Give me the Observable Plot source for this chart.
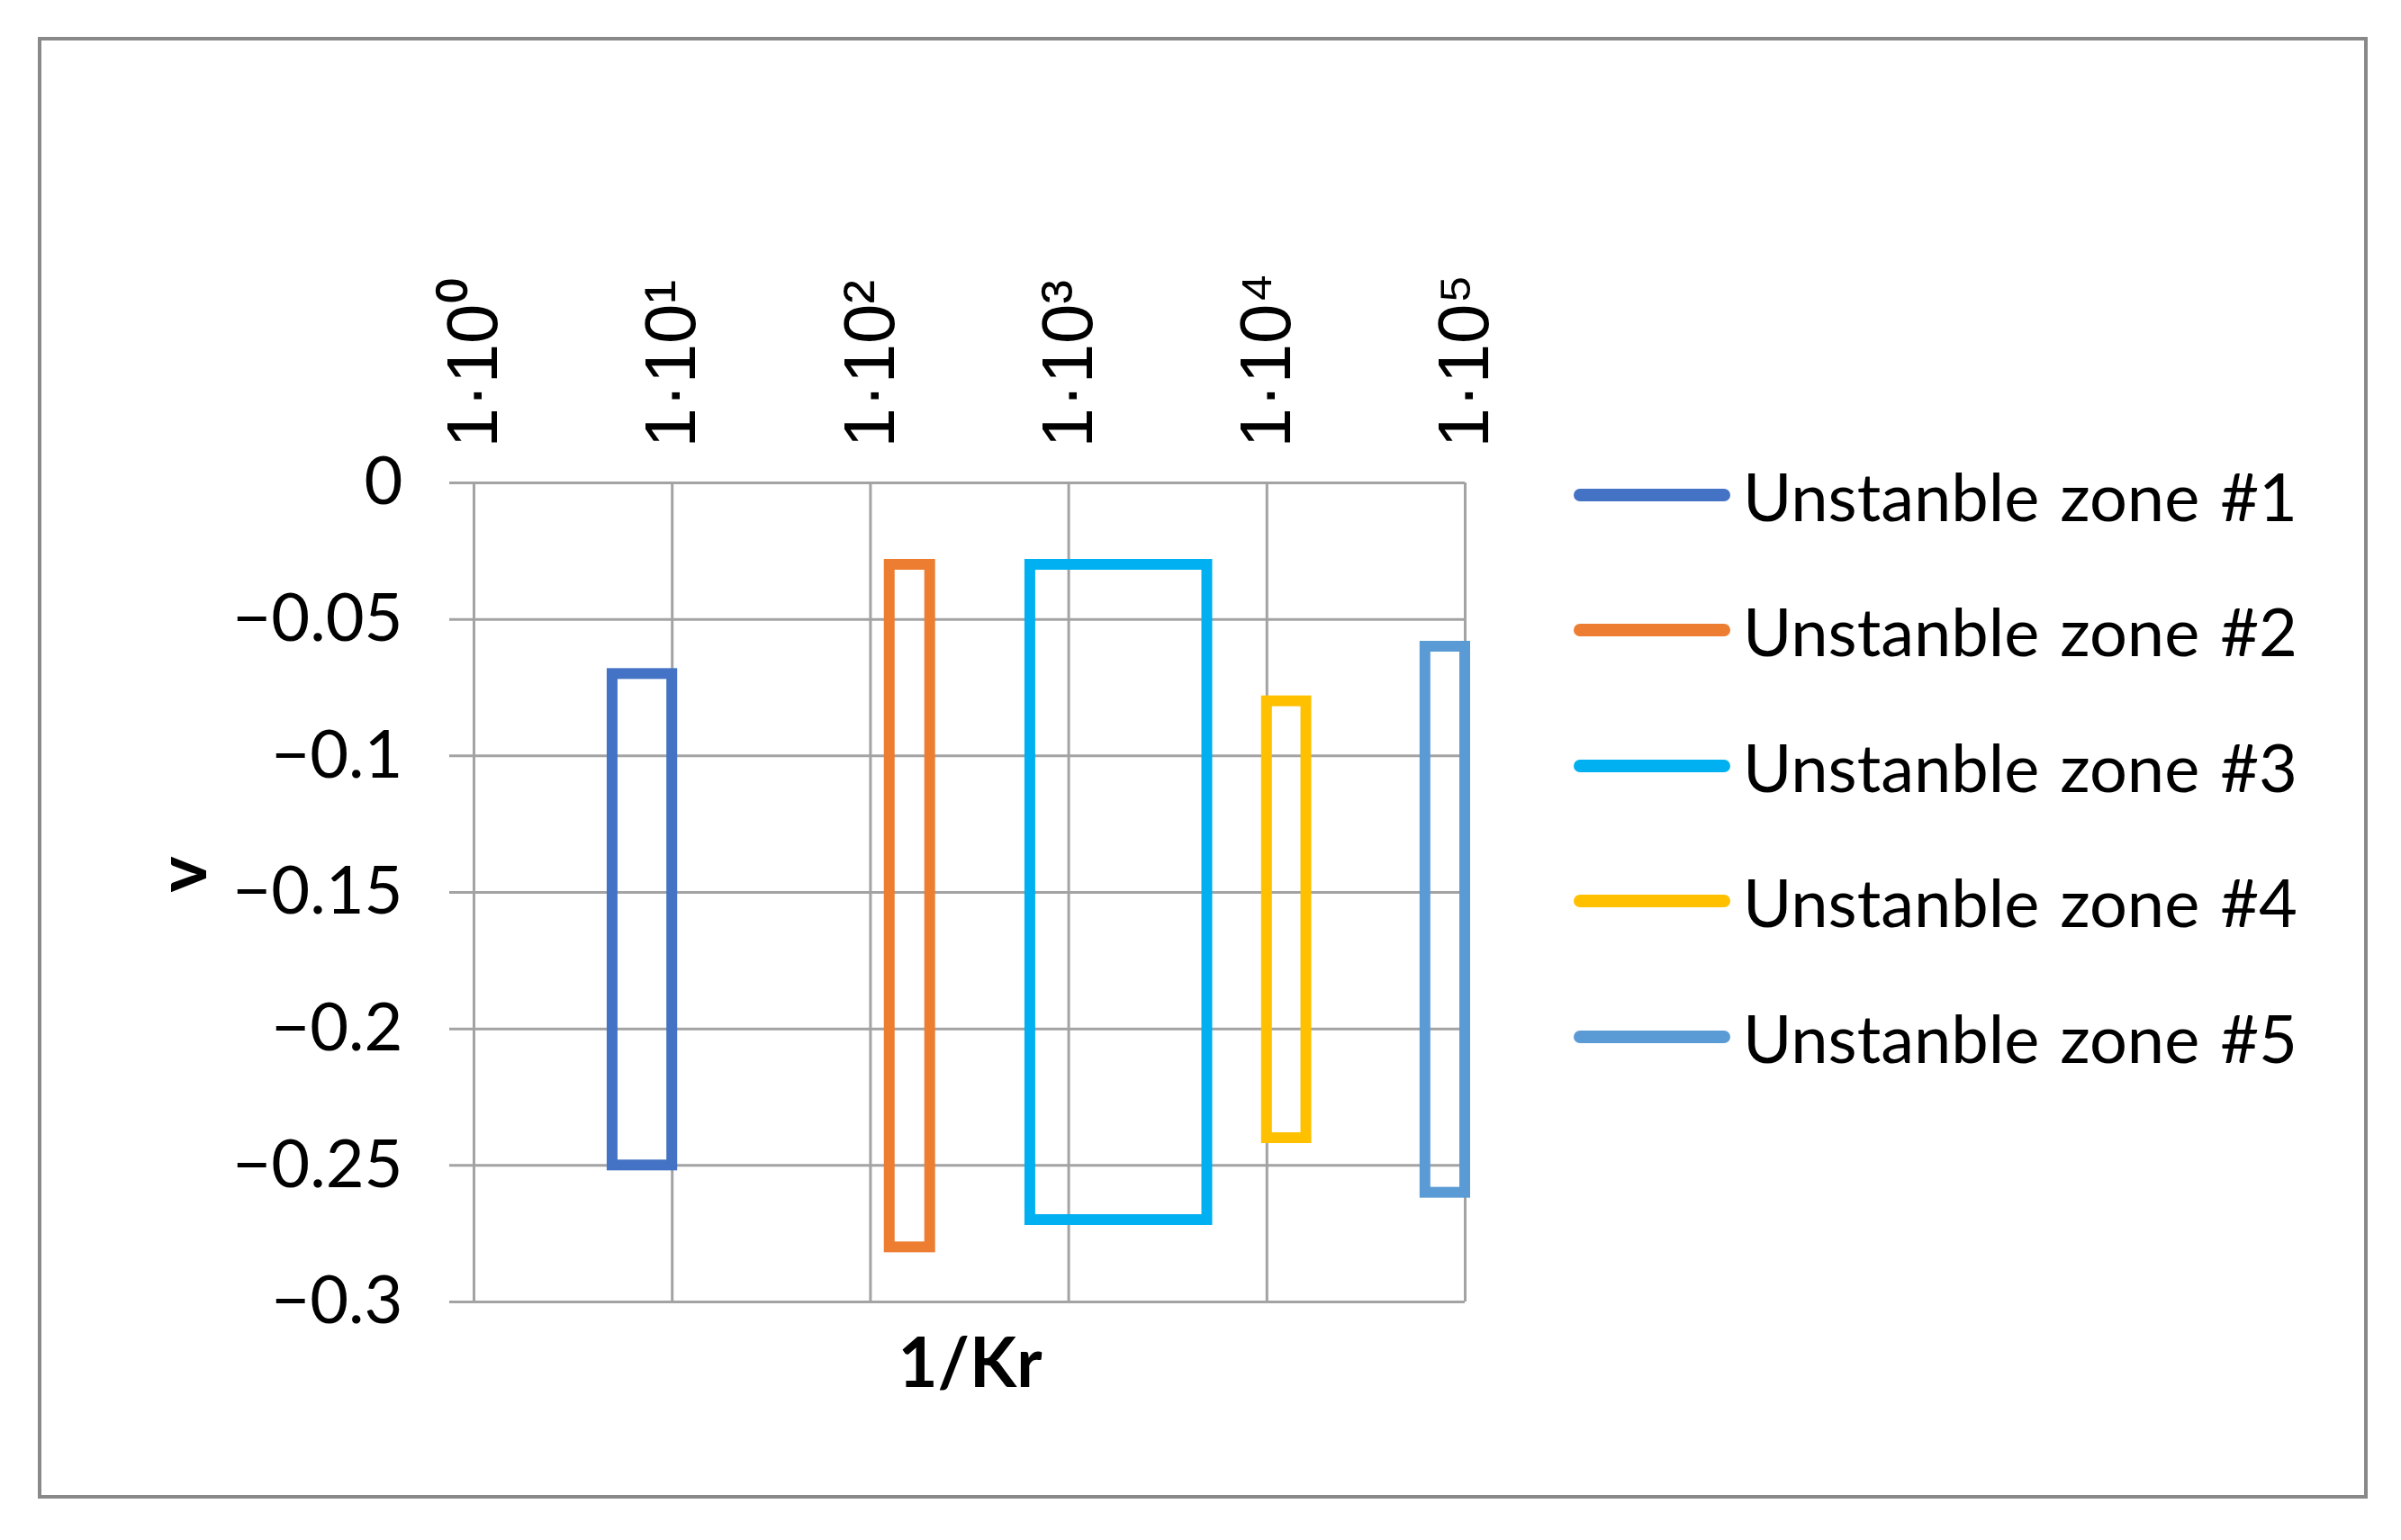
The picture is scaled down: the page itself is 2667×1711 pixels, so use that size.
<!DOCTYPE html>
<html><head><meta charset="utf-8">
<script src="https://cdn.jsdelivr.net/npm/d3@7"></script>
<script src="https://cdn.jsdelivr.net/npm/@observablehq/plot@0.6"></script>
<style>
html,body{margin:0;padding:0;background:#fff;}
#page{position:relative;width:2667px;height:1711px;overflow:hidden;background:#fff;}
#frame{position:absolute;left:42px;top:41px;width:2580px;height:1616px;border:4px solid #898989;}
#chart{position:absolute;left:0;top:0;}
#legend{position:absolute;left:1748px;top:0;font-family:Lato,sans-serif;font-size:74px;color:#000;}
.row{position:absolute;left:0;display:flex;align-items:center;white-space:nowrap;height:100px;}
.row span{margin-left:14px;word-spacing:4px;}
</style>
</head>
<body>
<div id="page"><div id="frame"></div><div id="chart"></div><div id="legend"></div></div>
<script>
// ---- data ----
const zones = ["Unstanble zone #1", "Unstanble zone #2", "Unstanble zone #3", "Unstanble zone #4", "Unstanble zone #5"];
const zoneColors = ["#4472C4", "#ED7D31", "#00B0F0", "#FFC000", "#5B9BD5"];
const xStart = [5, 125, 640, 10000, 63000];
const xEnd = [10, 200, 5000, 15800, 100000];
const vTop = [-0.07, -0.03, -0.03, -0.08, -0.06];
const vBottom = [-0.25, -0.28, -0.27, -0.24, -0.26];
const xTicks = [1, 10, 100, 1000, 10000, 100000];
const xTickLabels = ["1·10⁰", "1·10¹", "1·10²", "1·10³", "1·10⁴", "1·10⁵"];
const yTicks = [0, -0.05, -0.1, -0.15, -0.2, -0.25, -0.3];
const yTickLabels = ["0", "−0.05", "−0.1", "−0.15", "−0.2", "−0.25", "−0.3"];
const xTitle = "1/Kr";
const yTitle = "v";

const xLab = new Map(xTicks.map((t, i) => [t, xTickLabels[i]]));
const yLab = new Map(yTicks.map((t, i) => [t, yTickLabels[i]]));

const chart = Plot.plot({
  width: 1750, height: 1711,
  marginLeft: 499, marginRight: 123, marginTop: 536, marginBottom: 265,
  style: {fontFamily: "Lato, sans-serif", background: "transparent", overflow: "visible", color: "#000"},
  x: {type: "log", domain: [Math.pow(10, -0.1226), 1e5]},
  y: {domain: [-0.3, 0]},
  color: {domain: zones, range: zoneColors},
  marks: [
    Plot.gridY(yTicks, {stroke: "#a3a3a3", strokeOpacity: 1, strokeWidth: 3}),
    Plot.gridX(xTicks, {stroke: "#a3a3a3", strokeOpacity: 1, strokeWidth: 3}),
    Plot.axisY(yTicks, {anchor: "left", tickSize: 0, tickPadding: 52, fontSize: 74, tickFormat: d => yLab.get(d), label: null}),
    Plot.axisX(xTicks, {anchor: "top", tickSize: 0, tickRotate: -90, tickPadding: 39, fontSize: 80, fontFamily: "Liberation Sans, Arial, sans-serif", tickFormat: d => xLab.get(d), label: null}),
    Plot.rect(zones, {x1: xStart, x2: xEnd, y1: vTop, y2: vBottom, stroke: zones, fill: "none", strokeWidth: 12}),
    Plot.text([yTitle], {frameAnchor: "left", dx: -295, rotate: -90, fontSize: 76, fontWeight: "bold", lineAnchor: "middle"}),
    Plot.text([xTitle], {frameAnchor: "bottom", dx: 14, dy: 70, fontSize: 76, fontWeight: "bold", lineAnchor: "middle"})
  ]
});
document.getElementById("chart").appendChild(chart);

// ---- legend ----
const rowCenters = [550, 700, 851, 1001, 1152];
const legend = d3.select("#legend");
zones.forEach((z, i) => {
  const row = legend.append("div").attr("class", "row").style("top", (rowCenters[i] - 50) + "px");
  const svg = row.append("svg").attr("width", 174).attr("height", 20);
  svg.append("line").attr("x1", 7).attr("x2", 167).attr("y1", 10).attr("y2", 10)
    .attr("stroke", zoneColors[i]).attr("stroke-width", 14).attr("stroke-linecap", "round");
  row.append("span").text(z);
});
</script>
</body></html>
